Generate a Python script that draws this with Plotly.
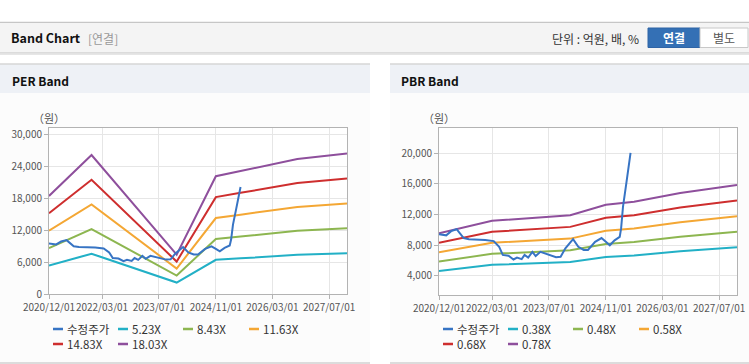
import plotly.graph_objects as go

W, H = 749, 364

# ---------------- data ----------------
x_tick_vals = ["2020-12-01", "2022-03-01", "2023-07-01", "2024-11-01", "2026-03-01", "2027-07-01"]
x_tick_text = ["2020/12/01", "2022/03/01", "2023/07/01", "2024/11/01", "2026/03/01", "2027/07/01"]

per_y_ticks = [0, 6000, 12000, 18000, 24000, 30000]
per_y_text = ["0", "6,000", "12,000", "18,000", "24,000", "30,000"]
pbr_y_ticks = [4000, 8000, 12000, 16000, 20000]
pbr_y_text = ["4,000", "8,000", "12,000", "16,000", "20,000"]

price_dates = ["2020-12-01", "2021-02-01", "2021-03-15", "2021-05-01", "2021-07-01", "2021-08-15",
               "2022-01-01", "2022-03-15", "2022-05-01", "2022-06-01", "2022-07-20", "2022-09-01",
               "2022-10-01", "2022-11-10", "2022-12-05", "2023-01-05", "2023-02-10", "2023-03-10",
               "2023-04-20", "2023-07-01", "2023-09-01", "2023-10-10", "2023-11-20", "2024-01-25",
               "2024-03-10", "2024-04-25", "2024-06-01", "2024-08-01", "2024-09-25", "2024-11-01",
               "2024-12-05", "2025-01-15", "2025-02-28", "2025-03-12", "2025-03-28", "2025-04-25",
               "2025-05-18", "2025-06-01"]
price = [9450, 9300, 9850, 10100, 8950, 8800,
         8700, 8550, 7800, 6750, 6650, 6150,
         6400, 6200, 6750, 6400, 7150, 6600,
         7150, 6750, 6450, 6500, 7600, 8800,
         7800, 7400, 7400, 8450, 8950, 8470,
         8000, 8650, 9100, 10200, 13000, 16000,
         18700, 20050]

per_dates = ["2020-12-01", "2021-12-01", "2023-12-01", "2024-11-01", "2025-06-01",
             "2026-03-01", "2026-10-01", "2027-12-01"]
per_523 = [5335, 7557, 2144, 6407, 6689, 7034, 7343, 7636]
per_843 = [8599, 12181, 3456, 10327, 10782, 11338, 11836, 12308]
per_1163 = [11863, 16805, 4768, 14247, 14875, 15642, 16329, 16980]
per_1483 = [15127, 21429, 6080, 18167, 18968, 19946, 20821, 21652]
per_1803 = [18391, 26053, 7392, 22087, 23060, 24250, 25314, 26324]
per_names = ["수정주가", "5.23X", "8.43X", "11.63X", "14.83X", "18.03X"]

pbr_dates = ["2020-12-01", "2022-03-01", "2024-01-01", "2024-07-01", "2024-11-01",
             "2025-07-01", "2026-08-01", "2027-12-01"]
pbr_038 = [4655, 5453, 5814, 6194, 6479, 6669, 7220, 7733]
pbr_048 = [5880, 6888, 7344, 7824, 8184, 8424, 9120, 9768]
pbr_058 = [7105, 8323, 8874, 9454, 9889, 10179, 11020, 11803]
pbr_068 = [8330, 9758, 10404, 11084, 11594, 11934, 12920, 13838]
pbr_078 = [9555, 11193, 11934, 12714, 13299, 13689, 14820, 15873]
pbr_names = ["수정주가", "0.38X", "0.48X", "0.58X", "0.68X", "0.78X"]

colors = ["#3774C4", "#22B0C6", "#8DB650", "#F4A734", "#CE2E2E", "#8E4F9C"]

# ---------------- helpers ----------------
def px(x):
    return x / W

def py(y):
    return 1 - y / H

KR = "Noto Sans CJK KR"

fig = go.Figure()

# PER traces
for vals, c in zip([per_523, per_843, per_1163, per_1483, per_1803], colors[1:]):
    fig.add_trace(go.Scatter(x=per_dates, y=vals, mode="lines", line=dict(color=c, width=2),
                             xaxis="x", yaxis="y", hoverinfo="skip", showlegend=False))
fig.add_trace(go.Scatter(x=price_dates, y=price, mode="lines", line=dict(color=colors[0], width=2),
                         xaxis="x", yaxis="y", hoverinfo="skip", showlegend=False))
# PBR traces
for vals, c in zip([pbr_038, pbr_048, pbr_058, pbr_068, pbr_078], colors[1:]):
    fig.add_trace(go.Scatter(x=pbr_dates, y=vals, mode="lines", line=dict(color=c, width=2),
                             xaxis="x2", yaxis="y2", hoverinfo="skip", showlegend=False))
fig.add_trace(go.Scatter(x=price_dates, y=price, mode="lines", line=dict(color=colors[0], width=2),
                         xaxis="x2", yaxis="y2", hoverinfo="skip", showlegend=False))

shapes = []
ann = []

def rect(x0, y0, x1, y1, fill, line=None, lw=0):
    shapes.append(dict(type="rect", xref="paper", yref="paper", x0=px(x0), x1=px(x1),
                       y0=py(y1), y1=py(y0), fillcolor=fill, layer="below",
                       line=dict(color=line or fill, width=lw)))

def hline(x0, x1, y, color, w=1):
    shapes.append(dict(type="line", xref="paper", yref="paper", x0=px(x0), x1=px(x1),
                       y0=py(y), y1=py(y), layer="below", line=dict(color=color, width=w)))

def text(x, y, s, size, color, xanchor="left", bold=False, family=KR):
    ann.append(dict(xref="paper", yref="paper", x=px(x), y=py(y), text=("<b>%s</b>" % s) if bold else s,
                    showarrow=False, xanchor=xanchor, yanchor="middle",
                    font=dict(family=family, size=size, color=color)))

# header bar
hline(0, 749, 22.5, "#c6c6c6", 1.5)
rect(0, 23, 749, 52.5, "#f4f4f4")
hline(0, 749, 53, "#bdbdbd", 1)
hline(0, 749, 54.2, "#e6e6e6", 1.5)
text(9, 38, "Band Chart", 12.5, "#111111", bold=True)
text(86, 38.5, "[연결]", 12, "#999999")
text(641, 39, "단위 : 억원, 배, %", 12, "#333333", xanchor="right")
rect(648, 28, 700, 47.5, "#3470B5", "#2f64a6", 1)
rect(700, 28, 748, 47.5, "#ffffff", "#c8c8c8", 1)
text(674, 38, "연결", 12, "#ffffff", xanchor="center", bold=True)
text(724, 38, "별도", 12, "#555555", xanchor="center")

# panels
for (x0, x1, title, tx) in [(0, 370, "PER Band", 9.5), (390, 749, "PBR Band", 399.5)]:
    rect(x0, 64, x1, 93, "#eef1f6")
    hline(x0, x1, 64, "#d6d6d6", 1.5)
    rect(x0, 93, x1, 362.5, "#fcfcfc")
    hline(x0, x1, 363, "#d0d0d0", 1.5)
    text(tx, 80.5, title, 12, "#111111", bold=True)

# plot area white backgrounds
rect(49, 128, 347, 294, "#ffffff")
rect(439, 128, 737, 295.3, "#ffffff")

# unit labels
text(31, 118, "（원）", 11, "#555555")
text(421, 118, "（원）", 11, "#555555")

# manual legends
offsets = [0, 65, 130, 196]
for (lx, names) in [(53, per_names), (443, pbr_names)]:
    for i, (name, c) in enumerate(zip(names, colors)):
        row = 0 if i < 4 else 1
        col = i if i < 4 else i - 4
        x0 = lx + offsets[col]
        yy = 329 if row == 0 else 344
        shapes.append(dict(type="line", xref="paper", yref="paper", x0=px(x0), x1=px(x0 + 10),
                           y0=py(yy), y1=py(yy), line=dict(color=c, width=2.5)))
        text(x0 + 12, yy, name, 11.5, "#333333")

axis_common = dict(showgrid=True, gridcolor="#e6e6e6", gridwidth=1, showline=True,
                   linecolor="#b3b3b3", linewidth=1, mirror=True, ticks="outside",
                   ticklen=4, tickcolor="#b3b3b3", zeroline=False, automargin=False,
                   tickangle=0,
                   tickfont=dict(family=KR, size=10, color="#555555"), fixedrange=True)

fig.update_layout(
    template="none",
    width=W, height=H, autosize=False, margin=dict(l=0, r=0, t=0, b=0, pad=0),
    paper_bgcolor="#ffffff", plot_bgcolor="rgba(0,0,0,0)",
    showlegend=False, shapes=shapes, annotations=ann,
    xaxis=dict(domain=[px(49), px(347)], anchor="y", type="date",
               range=["2020-12-01", "2027-12-01"], tickvals=x_tick_vals, ticktext=x_tick_text,
               **axis_common),
    yaxis=dict(domain=[py(294), py(128)], anchor="x", range=[0, 31125],
               tickvals=per_y_ticks, ticktext=per_y_text, **axis_common),
    xaxis2=dict(domain=[px(439), px(737)], anchor="y2", type="date",
                range=["2020-12-01", "2027-12-01"], tickvals=x_tick_vals, ticktext=x_tick_text,
                **axis_common),
    yaxis2=dict(domain=[py(295.3), py(128)], anchor="x2", range=[1480, 23300],
                tickvals=pbr_y_ticks, ticktext=pbr_y_text, **axis_common),
)

fig.write_html("out.html", config={"displayModeBar": False},
               post_script="document.body.style.margin='0px';document.body.style.padding='0px';document.body.style.overflow='hidden';")
